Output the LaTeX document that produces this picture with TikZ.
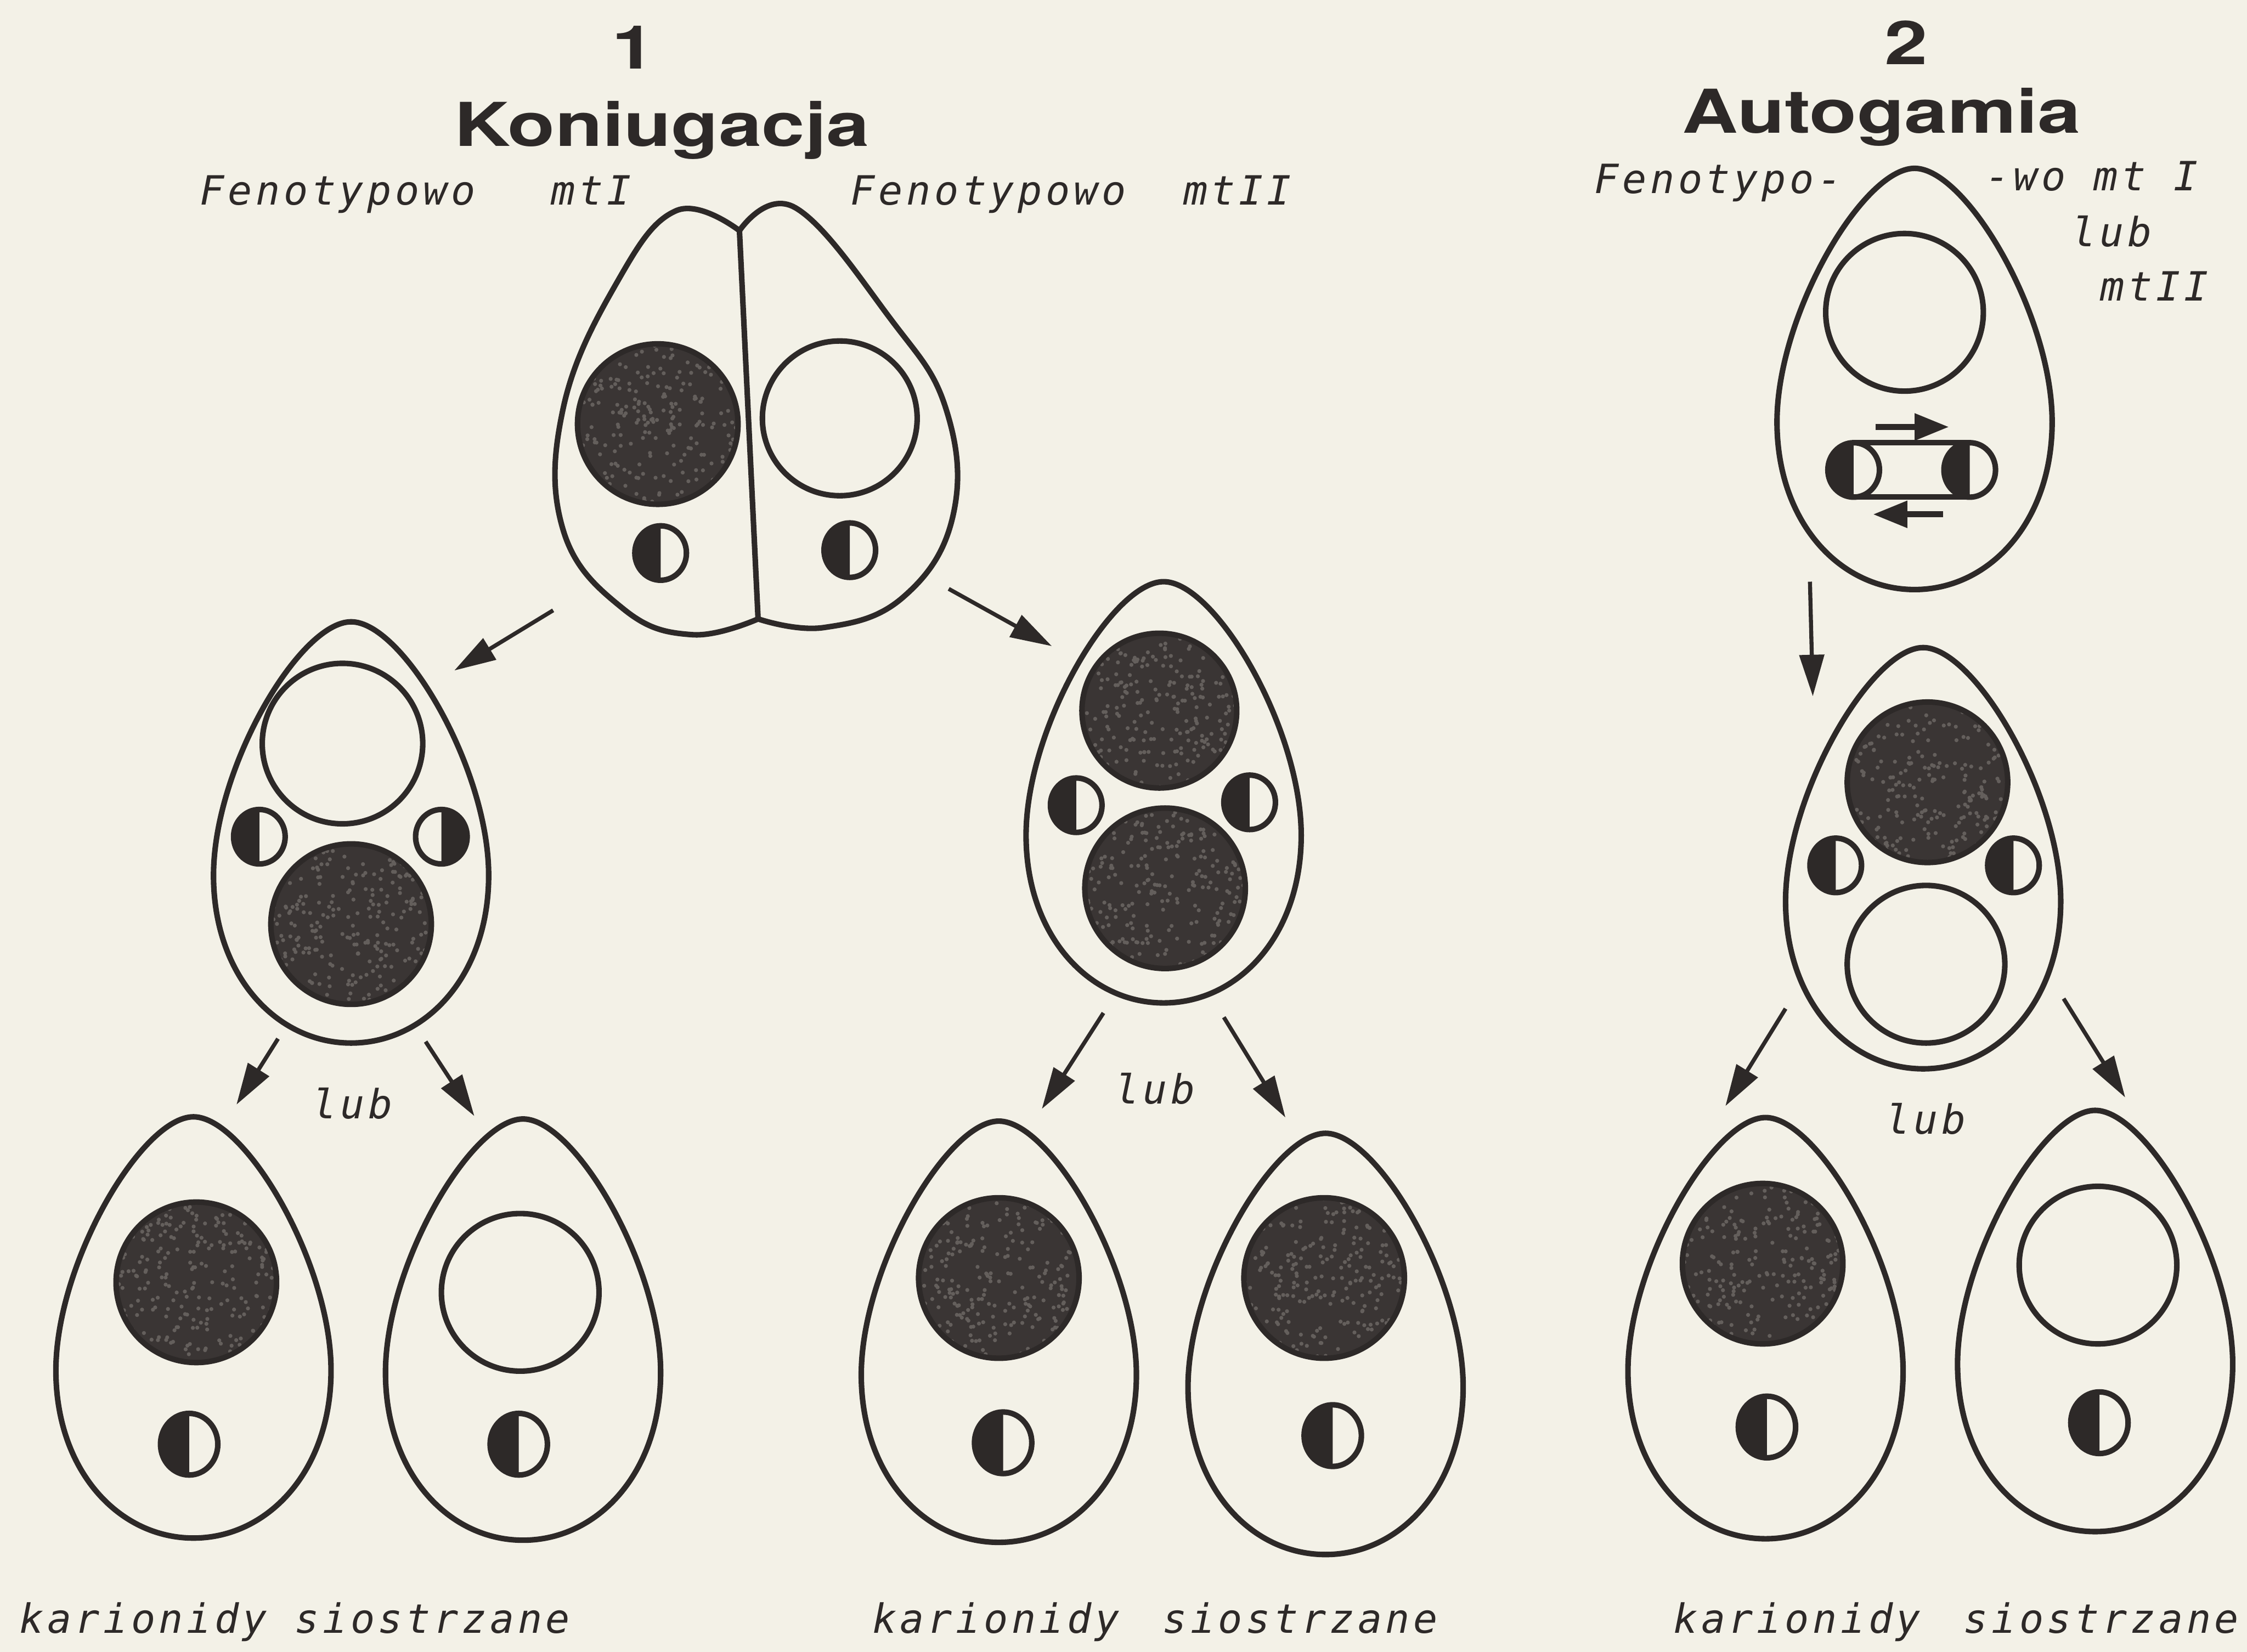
\documentclass[tikz,border=0pt]{standalone}
\usepackage{fontspec}
\setsansfont{TeX Gyre Heros}
\newfontfamily\lettering[LetterSpace=9]{DejaVu Sans Mono}
\usetikzlibrary{arrows.meta}
\definecolor{paper}{RGB}{243,241,231}
\definecolor{ink}{RGB}{45,41,40}
\definecolor{nucleus}{RGB}{58,53,52}
\definecolor{grain}{RGB}{100,95,92}

% stippled macronucleus: x, y, radius
\newcommand{\darknuc}[3]{%
  \begin{scope}
    \clip (#1,#2) circle (#3);
    \fill[nucleus] (#1,#2) circle (#3);
    \foreach \k in {1,...,260}
      \fill[grain] ({#1+#3*rand},{#2+#3*rand}) circle (0.014);
  \end{scope}
  \draw[cell] (#1,#2) circle (#3);}

\begin{document}
\begin{tikzpicture}[
    cell/.style={draw=ink, line width=1.1pt},
    flow/.style={draw=ink, line width=0.8pt, -{Triangle[length=2.9mm,width=1.7mm]}},
    mixing/.style={draw=ink, line width=1.2pt, -{Triangle[length=2.4mm,width=1.8mm]}},
    heading/.style={font=\sffamily\bfseries\fontsize{12}{14}\selectfont, xscale=1.28, inner sep=0pt, text=ink},
    lettertext/.style={font=\lettering\itshape\fontsize{8}{10}\selectfont, inner sep=0pt, text=ink},
    egg/.pic={\draw[cell] (0,1.47) .. controls (0.36,1.47) and (0.96,0.45) .. (0.96,-0.3)
      .. controls (0.96,-1.0) and (0.52,-1.47) .. (0,-1.47)
      .. controls (-0.52,-1.47) and (-0.96,-1.0) .. (-0.96,-0.3)
      .. controls (-0.96,0.45) and (-0.36,1.47) .. cycle;},
    micro/.pic={\fill[ink] (0,0.19) arc (90:270:0.18 and 0.19) -- cycle;
      \draw[cell] (0,0) ellipse (0.18 and 0.19);},
    micro right/.pic={\fill[ink] (0,0.19) arc (90:-90:0.18 and 0.19) -- cycle;
      \draw[cell] (0,0) ellipse (0.18 and 0.19);},
    micro big/.pic={\fill[ink] (0,0.215) arc (90:270:0.2 and 0.215) -- cycle;
      \draw[cell] (0,0) ellipse (0.2 and 0.215);}
  ]
  \pgfmathsetseed{1971}
  \fill[paper] (0,0) rectangle (15.68,-11.53);
  \useasboundingbox (0,0) rectangle (15.68,-11.53);

  % titles
  \node[heading, anchor=base] (num1) at (4.42,-0.48) {1};
  \node[heading, anchor=base] (koniug) at (4.62,-1.02) {Koniugacja};
  \node[heading, anchor=base] (num2) at (13.30,-0.45) {2};
  \node[heading, anchor=base] (autog) at (13.13,-0.93) {Autogamia};

  % phenotypes
  \node[lettertext, anchor=base west] (feno1) at (1.39,-1.43) {Fenotypowo\hspace{5.3mm}mtI};
  \node[lettertext, anchor=base west] (feno2) at (5.93,-1.43) {Fenotypowo\hspace{4mm}mtII};
  \node[lettertext, anchor=base west] (feno3a) at (11.12,-1.35) {Fenotypo-};
  \node[lettertext, anchor=base west] (feno3b) at (13.85,-1.33) {-wo mt I};
  \node[lettertext, anchor=base west] (feno3c) at (14.45,-1.72) {lub};
  \node[lettertext, anchor=base west] (feno3d) at (14.65,-2.10) {mtII};

  % conjugating pair
  \draw[cell] plot[smooth, tension=0.7] coordinates {(5.16,-1.61) (4.72,-1.47) (4.30,-1.98)
    (3.93,-2.85) (3.93,-3.70) (4.35,-4.25) (4.83,-4.43) (5.29,-4.32)};
  \draw[cell] plot[smooth, tension=0.7] coordinates {(5.29,-4.32) (5.75,-4.38) (6.30,-4.17)
    (6.65,-3.60) (6.60,-2.85) (6.21,-2.22) (5.55,-1.45) (5.16,-1.61)};
  \draw[cell] (5.16,-1.61) -- (5.29,-4.32);
  \darknuc{4.59}{-2.96}{0.56}
  \draw[cell] (5.86,-2.92) circle (0.54);
  \pic at (4.61,-3.86) {micro};
  \pic at (5.93,-3.84) {micro};

  % left exconjugant
  \pic at (2.45,-5.81) {egg};
  \draw[cell] (2.39,-5.19) circle (0.56);
  \darknuc{2.45}{-6.45}{0.56}
  \pic at (1.81,-5.84) {micro};
  \pic at (3.08,-5.84) {micro right};

  % right exconjugant
  \pic at (8.12,-5.53) {egg};
  \darknuc{8.09}{-4.96}{0.54}
  \darknuc{8.13}{-6.20}{0.56}
  \pic at (7.51,-5.62) {micro};
  \pic at (8.72,-5.60) {micro};

  % autogamy
  \pic at (13.36,-2.645) {egg};
  \draw[cell] (13.29,-2.18) circle (0.55);
  \draw[cell] (12.935,-3.09) -- (13.745,-3.09);
  \draw[cell] (12.935,-3.47) -- (13.745,-3.47);
  \pic at (12.935,-3.28) {micro};
  \pic at (13.745,-3.28) {micro};
  \coordinate (fwdA) at (13.09,-2.98);
  \coordinate (fwdB) at (13.60,-2.98);
  \coordinate (bckA) at (13.56,-3.59);
  \coordinate (bckB) at (13.07,-3.59);
  \draw[mixing] (fwdA) -- (fwdB);
  \draw[mixing] (bckA) -- (bckB);

  \pic at (13.42,-5.99) {egg};
  \darknuc{13.45}{-5.46}{0.56}
  \draw[cell] (13.44,-6.73) circle (0.55);
  \pic at (12.81,-6.04) {micro};
  \pic at (14.05,-6.04) {micro};

  % karyonides
  \pic at (1.35,-9.265) {egg};
  \darknuc{1.37}{-8.95}{0.56}
  \pic at (1.32,-10.08) {micro big};
  \pic at (3.65,-9.28) {egg};
  \draw[cell] (3.63,-9.02) circle (0.55);
  \pic at (3.62,-10.08) {micro big};
  \pic at (6.97,-9.295) {egg};
  \darknuc{6.97}{-8.92}{0.56}
  \pic at (7.00,-10.07) {micro big};
  \pic at (9.25,-9.38) {egg};
  \darknuc{9.24}{-8.92}{0.56}
  \pic at (9.30,-10.02) {micro big};
  \pic at (12.32,-9.27) {egg};
  \darknuc{12.30}{-8.82}{0.56}
  \pic at (12.33,-9.96) {micro big};
  \pic at (14.62,-9.22) {egg};
  \draw[cell] (14.64,-8.83) circle (0.55);
  \pic at (14.65,-9.93) {micro big};

  % arrows
  \coordinate (pairL) at (3.86,-4.26);  \coordinate (lmidT) at (3.17,-4.68);
  \coordinate (pairR) at (6.62,-4.11);  \coordinate (rmidT) at (7.34,-4.51);
  \coordinate (lmidBL) at (1.94,-7.25); \coordinate (b1T) at (1.65,-7.71);
  \coordinate (lmidBR) at (2.97,-7.27); \coordinate (b2T) at (3.31,-7.79);
  \coordinate (rmidBL) at (7.70,-7.07); \coordinate (b3T) at (7.27,-7.74);
  \coordinate (rmidBR) at (8.54,-7.10); \coordinate (b4T) at (8.97,-7.80);
  \coordinate (atopB) at (12.63,-4.06); \coordinate (amidT) at (12.65,-4.86);
  \coordinate (amidBL) at (12.46,-7.04); \coordinate (b5T) at (12.04,-7.72);
  \coordinate (amidBR) at (14.40,-6.97); \coordinate (b6T) at (14.83,-7.66);
  \foreach \a/\b in {pairL/lmidT, pairR/rmidT, lmidBL/b1T, lmidBR/b2T, rmidBL/b3T,
      rmidBR/b4T, atopB/amidT, amidBL/b5T, amidBR/b6T}
    \draw[flow] (\a) -- (\b);

  \node[lettertext] (lub1) at (2.46,-7.70) {lub};
  \node[lettertext] (lub2) at (8.06,-7.60) {lub};
  \node[lettertext] (lub3) at (13.44,-7.81) {lub};

  % captions
  \node[lettertext, anchor=base west] (kar1) at (0.13,-11.40) {karionidy siostrzane};
  \node[lettertext, anchor=base west] (kar2) at (6.08,-11.40) {karionidy\hspace{3mm}siostrzane};
  \node[lettertext, anchor=base west] (kar3) at (11.67,-11.40) {karionidy\hspace{3mm}siostrzane};
\end{tikzpicture}
\end{document}
